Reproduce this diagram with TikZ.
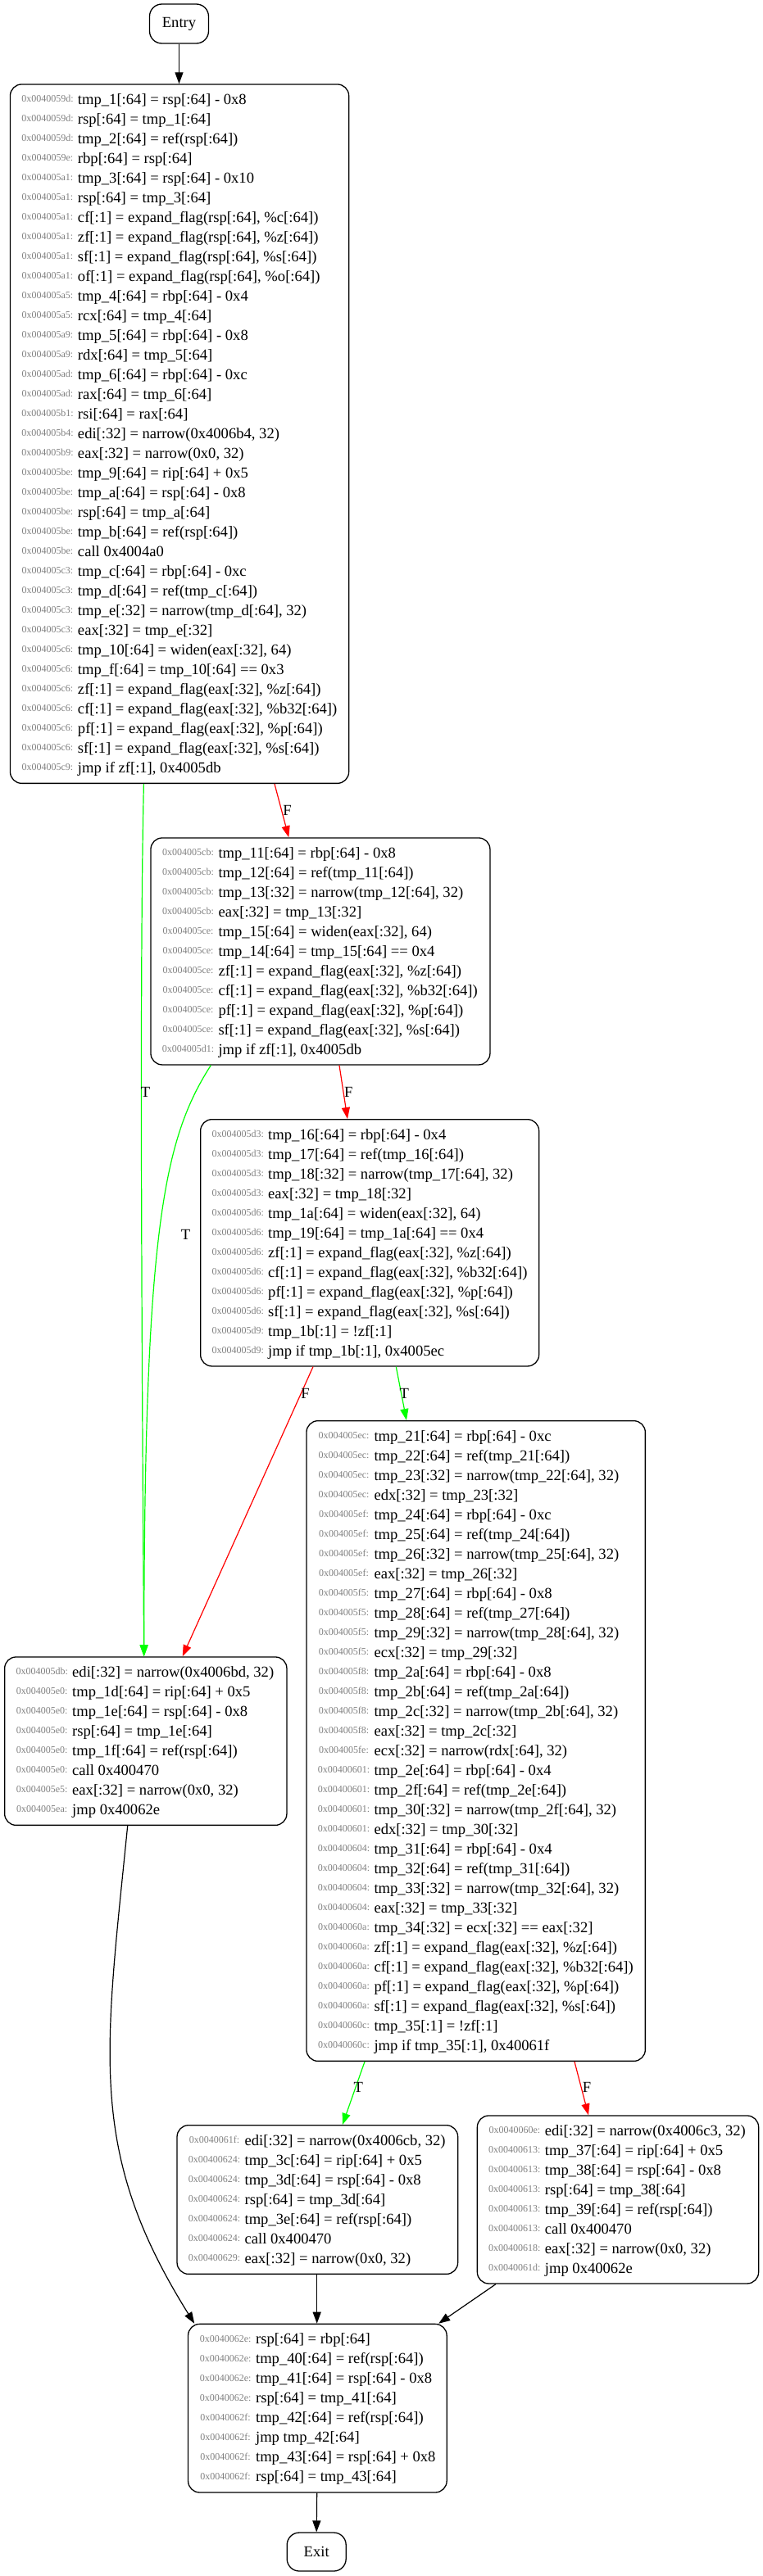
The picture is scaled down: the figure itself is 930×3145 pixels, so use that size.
\documentclass[tikz,border=0pt]{standalone}
\usepackage{fontspec}
\setmainfont{Liberation Serif}
\usetikzlibrary{arrows.meta}
\definecolor{edgeGreen}{RGB}{0,255,0}
\definecolor{edgeRed}{RGB}{255,0,0}
\definecolor{addrGray}{RGB}{128,128,128}
\newcommand\mainsz{\fontsize{18.6}{24}\selectfont}
\newcommand\addrsz{\fontsize{12}{14}\selectfont}
\newcommand\cfl[2]{\strut\makebox[62pt][c]{\raisebox{2.7pt}{\addrsz\color{addrGray}0x00400#1:}}\hspace{6pt}#2}
\begin{document}
\begin{tikzpicture}[x=1pt,y=-1pt,
  blk/.style={draw, line width=1.3pt, rounded corners=14pt, anchor=north west, inner sep=0pt},
  txtblk/.style={anchor=north west, inner sep=0pt, align=left, font=\mainsz},
  term/.style={draw, line width=1.3pt, rounded corners=15pt, minimum width=72pt, inner sep=0pt, font=\mainsz},
  tipA/.style={-{Triangle[length=14pt,width=10pt]}},
  edgeB/.style={draw=black, line width=1.2pt, tipA},
  edgeG/.style={draw=edgeGreen, line width=1.2pt, tipA},
  edgeR/.style={draw=edgeRed, line width=1.2pt, tipA},
  lbl/.style={inner sep=0pt, font=\mainsz}]
\path[fill=white, use as bounding box] (0,0) rectangle (930,3145);

% terminals
\node[term, minimum height=48pt] (Entry) at (218.5,29) {Entry};
\node[term, minimum height=47pt] (Exit) at (386.2,3115.5) {Exit};

% boxes
\node[blk, minimum width=413.2pt, minimum height=853.4pt] (B1) at (11.8,102.3) {};
\node[blk, minimum width=414pt, minimum height=277pt] (B2) at (183.3,1022.3) {};
\node[blk, minimum width=413pt, minimum height=301.3pt] (B3) at (244,1366) {};
\node[blk, minimum width=413.4pt, minimum height=781.7pt] (B4) at (373.3,1734) {};
\node[blk, minimum width=344.3pt, minimum height=205.4pt] (B5) at (5,2022.3) {};
\node[blk, minimum width=342.6pt, minimum height=181.7pt] (B6) at (215.4,2594) {};
\node[blk, minimum width=343.3pt, minimum height=205pt] (B7) at (581.7,2582.3) {};
\node[blk, minimum width=315.6pt, minimum height=205.6pt] (B8) at (228.9,2836.7) {};

% texts
\node[txtblk] (B1t) at ([xshift=15pt,yshift=-8pt]B1.north west) {%
\cfl{59d}{tmp\_1[:64] = rsp[:64] - 0x8}\\
\cfl{59d}{rsp[:64] = tmp\_1[:64]}\\
\cfl{59d}{tmp\_2[:64] = ref(rsp[:64])}\\
\cfl{59e}{rbp[:64] = rsp[:64]}\\
\cfl{5a1}{tmp\_3[:64] = rsp[:64] - 0x10}\\
\cfl{5a1}{rsp[:64] = tmp\_3[:64]}\\
\cfl{5a1}{cf[:1] = expand\_flag(rsp[:64], \%c[:64])}\\
\cfl{5a1}{zf[:1] = expand\_flag(rsp[:64], \%z[:64])}\\
\cfl{5a1}{sf[:1] = expand\_flag(rsp[:64], \%s[:64])}\\
\cfl{5a1}{of[:1] = expand\_flag(rsp[:64], \%o[:64])}\\
\cfl{5a5}{tmp\_4[:64] = rbp[:64] - 0x4}\\
\cfl{5a5}{rcx[:64] = tmp\_4[:64]}\\
\cfl{5a9}{tmp\_5[:64] = rbp[:64] - 0x8}\\
\cfl{5a9}{rdx[:64] = tmp\_5[:64]}\\
\cfl{5ad}{tmp\_6[:64] = rbp[:64] - 0xc}\\
\cfl{5ad}{rax[:64] = tmp\_6[:64]}\\
\cfl{5b1}{rsi[:64] = rax[:64]}\\
\cfl{5b4}{edi[:32] = narrow(0x4006b4, 32)}\\
\cfl{5b9}{eax[:32] = narrow(0x0, 32)}\\
\cfl{5be}{tmp\_9[:64] = rip[:64] + 0x5}\\
\cfl{5be}{tmp\_a[:64] = rsp[:64] - 0x8}\\
\cfl{5be}{rsp[:64] = tmp\_a[:64]}\\
\cfl{5be}{tmp\_b[:64] = ref(rsp[:64])}\\
\cfl{5be}{call 0x4004a0}\\
\cfl{5c3}{tmp\_c[:64] = rbp[:64] - 0xc}\\
\cfl{5c3}{tmp\_d[:64] = ref(tmp\_c[:64])}\\
\cfl{5c3}{tmp\_e[:32] = narrow(tmp\_d[:64], 32)}\\
\cfl{5c3}{eax[:32] = tmp\_e[:32]}\\
\cfl{5c6}{tmp\_10[:64] = widen(eax[:32], 64)}\\
\cfl{5c6}{tmp\_f[:64] = tmp\_10[:64] == 0x3}\\
\cfl{5c6}{zf[:1] = expand\_flag(eax[:32], \%z[:64])}\\
\cfl{5c6}{cf[:1] = expand\_flag(eax[:32], \%b32[:64])}\\
\cfl{5c6}{pf[:1] = expand\_flag(eax[:32], \%p[:64])}\\
\cfl{5c6}{sf[:1] = expand\_flag(eax[:32], \%s[:64])}\\
\cfl{5c9}{jmp if zf[:1], 0x4005db}};

\node[txtblk] (B2t) at ([xshift=15pt,yshift=-8pt]B2.north west) {%
\cfl{5cb}{tmp\_11[:64] = rbp[:64] - 0x8}\\
\cfl{5cb}{tmp\_12[:64] = ref(tmp\_11[:64])}\\
\cfl{5cb}{tmp\_13[:32] = narrow(tmp\_12[:64], 32)}\\
\cfl{5cb}{eax[:32] = tmp\_13[:32]}\\
\cfl{5ce}{tmp\_15[:64] = widen(eax[:32], 64)}\\
\cfl{5ce}{tmp\_14[:64] = tmp\_15[:64] == 0x4}\\
\cfl{5ce}{zf[:1] = expand\_flag(eax[:32], \%z[:64])}\\
\cfl{5ce}{cf[:1] = expand\_flag(eax[:32], \%b32[:64])}\\
\cfl{5ce}{pf[:1] = expand\_flag(eax[:32], \%p[:64])}\\
\cfl{5ce}{sf[:1] = expand\_flag(eax[:32], \%s[:64])}\\
\cfl{5d1}{jmp if zf[:1], 0x4005db}};

\node[txtblk] (B3t) at ([xshift=15pt,yshift=-8pt]B3.north west) {%
\cfl{5d3}{tmp\_16[:64] = rbp[:64] - 0x4}\\
\cfl{5d3}{tmp\_17[:64] = ref(tmp\_16[:64])}\\
\cfl{5d3}{tmp\_18[:32] = narrow(tmp\_17[:64], 32)}\\
\cfl{5d3}{eax[:32] = tmp\_18[:32]}\\
\cfl{5d6}{tmp\_1a[:64] = widen(eax[:32], 64)}\\
\cfl{5d6}{tmp\_19[:64] = tmp\_1a[:64] == 0x4}\\
\cfl{5d6}{zf[:1] = expand\_flag(eax[:32], \%z[:64])}\\
\cfl{5d6}{cf[:1] = expand\_flag(eax[:32], \%b32[:64])}\\
\cfl{5d6}{pf[:1] = expand\_flag(eax[:32], \%p[:64])}\\
\cfl{5d6}{sf[:1] = expand\_flag(eax[:32], \%s[:64])}\\
\cfl{5d9}{tmp\_1b[:1] = !zf[:1]}\\
\cfl{5d9}{jmp if tmp\_1b[:1], 0x4005ec}};

\node[txtblk] (B4t) at ([xshift=15pt,yshift=-8pt]B4.north west) {%
\cfl{5ec}{tmp\_21[:64] = rbp[:64] - 0xc}\\
\cfl{5ec}{tmp\_22[:64] = ref(tmp\_21[:64])}\\
\cfl{5ec}{tmp\_23[:32] = narrow(tmp\_22[:64], 32)}\\
\cfl{5ec}{edx[:32] = tmp\_23[:32]}\\
\cfl{5ef}{tmp\_24[:64] = rbp[:64] - 0xc}\\
\cfl{5ef}{tmp\_25[:64] = ref(tmp\_24[:64])}\\
\cfl{5ef}{tmp\_26[:32] = narrow(tmp\_25[:64], 32)}\\
\cfl{5ef}{eax[:32] = tmp\_26[:32]}\\
\cfl{5f5}{tmp\_27[:64] = rbp[:64] - 0x8}\\
\cfl{5f5}{tmp\_28[:64] = ref(tmp\_27[:64])}\\
\cfl{5f5}{tmp\_29[:32] = narrow(tmp\_28[:64], 32)}\\
\cfl{5f5}{ecx[:32] = tmp\_29[:32]}\\
\cfl{5f8}{tmp\_2a[:64] = rbp[:64] - 0x8}\\
\cfl{5f8}{tmp\_2b[:64] = ref(tmp\_2a[:64])}\\
\cfl{5f8}{tmp\_2c[:32] = narrow(tmp\_2b[:64], 32)}\\
\cfl{5f8}{eax[:32] = tmp\_2c[:32]}\\
\cfl{5fe}{ecx[:32] = narrow(rdx[:64], 32)}\\
\cfl{601}{tmp\_2e[:64] = rbp[:64] - 0x4}\\
\cfl{601}{tmp\_2f[:64] = ref(tmp\_2e[:64])}\\
\cfl{601}{tmp\_30[:32] = narrow(tmp\_2f[:64], 32)}\\
\cfl{601}{edx[:32] = tmp\_30[:32]}\\
\cfl{604}{tmp\_31[:64] = rbp[:64] - 0x4}\\
\cfl{604}{tmp\_32[:64] = ref(tmp\_31[:64])}\\
\cfl{604}{tmp\_33[:32] = narrow(tmp\_32[:64], 32)}\\
\cfl{604}{eax[:32] = tmp\_33[:32]}\\
\cfl{60a}{tmp\_34[:32] = ecx[:32] == eax[:32]}\\
\cfl{60a}{zf[:1] = expand\_flag(eax[:32], \%z[:64])}\\
\cfl{60a}{cf[:1] = expand\_flag(eax[:32], \%b32[:64])}\\
\cfl{60a}{pf[:1] = expand\_flag(eax[:32], \%p[:64])}\\
\cfl{60a}{sf[:1] = expand\_flag(eax[:32], \%s[:64])}\\
\cfl{60c}{tmp\_35[:1] = !zf[:1]}\\
\cfl{60c}{jmp if tmp\_35[:1], 0x40061f}};

\node[txtblk] (B5t) at ([xshift=15pt,yshift=-8pt]B5.north west) {%
\cfl{5db}{edi[:32] = narrow(0x4006bd, 32)}\\
\cfl{5e0}{tmp\_1d[:64] = rip[:64] + 0x5}\\
\cfl{5e0}{tmp\_1e[:64] = rsp[:64] - 0x8}\\
\cfl{5e0}{rsp[:64] = tmp\_1e[:64]}\\
\cfl{5e0}{tmp\_1f[:64] = ref(rsp[:64])}\\
\cfl{5e0}{call 0x400470}\\
\cfl{5e5}{eax[:32] = narrow(0x0, 32)}\\
\cfl{5ea}{jmp 0x40062e}};

\node[txtblk] (B6t) at ([xshift=15pt,yshift=-8pt]B6.north west) {%
\cfl{61f}{edi[:32] = narrow(0x4006cb, 32)}\\
\cfl{624}{tmp\_3c[:64] = rip[:64] + 0x5}\\
\cfl{624}{tmp\_3d[:64] = rsp[:64] - 0x8}\\
\cfl{624}{rsp[:64] = tmp\_3d[:64]}\\
\cfl{624}{tmp\_3e[:64] = ref(rsp[:64])}\\
\cfl{624}{call 0x400470}\\
\cfl{629}{eax[:32] = narrow(0x0, 32)}};

\node[txtblk] (B7t) at ([xshift=15pt,yshift=-8pt]B7.north west) {%
\cfl{60e}{edi[:32] = narrow(0x4006c3, 32)}\\
\cfl{613}{tmp\_37[:64] = rip[:64] + 0x5}\\
\cfl{613}{tmp\_38[:64] = rsp[:64] - 0x8}\\
\cfl{613}{rsp[:64] = tmp\_38[:64]}\\
\cfl{613}{tmp\_39[:64] = ref(rsp[:64])}\\
\cfl{613}{call 0x400470}\\
\cfl{618}{eax[:32] = narrow(0x0, 32)}\\
\cfl{61d}{jmp 0x40062e}};

\node[txtblk] (B8t) at ([xshift=15pt,yshift=-8pt]B8.north west) {%
\cfl{62e}{rsp[:64] = rbp[:64]}\\
\cfl{62e}{tmp\_40[:64] = ref(rsp[:64])}\\
\cfl{62e}{tmp\_41[:64] = rsp[:64] - 0x8}\\
\cfl{62e}{rsp[:64] = tmp\_41[:64]}\\
\cfl{62f}{tmp\_42[:64] = ref(rsp[:64])}\\
\cfl{62f}{jmp tmp\_42[:64]}\\
\cfl{62f}{tmp\_43[:64] = rsp[:64] + 0x8}\\
\cfl{62f}{rsp[:64] = tmp\_43[:64]}};

% edges
\draw[edgeB] (Entry.south) -- ([xshift=206.7pt]B1.north west);
\draw[edgeR] ([xshift=323.2pt]B1.south west) -- ([xshift=169pt]B2.north west);
\draw[edgeG] ([xshift=163.6pt]B1.south west) .. controls (171,1150) and (172,1500) .. ([xshift=170.7pt]B5.north west);
\draw[edgeR] ([xshift=230.7pt]B2.south west) -- ([xshift=180pt]B3.north west);
\draw[edgeG] ([xshift=74pt]B2.south west) .. controls (200,1390) and (176,1500) .. ([xshift=170.7pt]B5.north west);
\draw[edgeR] ([xshift=138pt]B3.south west) -- ([xshift=217.7pt]B5.north west);
\draw[edgeG] ([xshift=239.3pt]B3.south west) -- ([xshift=122.7pt]B4.north west);
\draw[edgeG] ([xshift=71.7pt]B4.south west) -- ([xshift=202.5pt]B6.north west);
\draw[edgeR] ([xshift=327.7pt]B4.south west) -- ([xshift=136.3pt]B7.north west);
\draw[edgeB] ([xshift=150.7pt]B5.south west) .. controls (128,2508) and (106,2627) .. ([xshift=8.3pt]B8.north west);
\draw[edgeB] ([xshift=171.3pt]B6.south west) -- ([xshift=157.8pt]B8.north west);
\draw[edgeB] ([xshift=23.3pt]B7.south west) -- ([xshift=306.3pt]B8.north west);
\draw[edgeB] ([xshift=157.8pt]B8.south west) -- (Exit.north);

% labels
\node[lbl] (LF1) at (350.5,989) {F};
\node[lbl] (LT2) at (177.5,1333.5) {T};
\node[lbl] (LF3) at (425.3,1333.5) {F};
\node[lbl] (LT4) at (226.5,1507) {T};
\node[lbl] (LF5) at (372.6,1701) {F};
\node[lbl] (LT6) at (493.3,1701) {T};
\node[lbl] (LT7) at (437.4,2548) {T};
\node[lbl] (LF8) at (716,2548) {F};
\end{tikzpicture}
\end{document}
